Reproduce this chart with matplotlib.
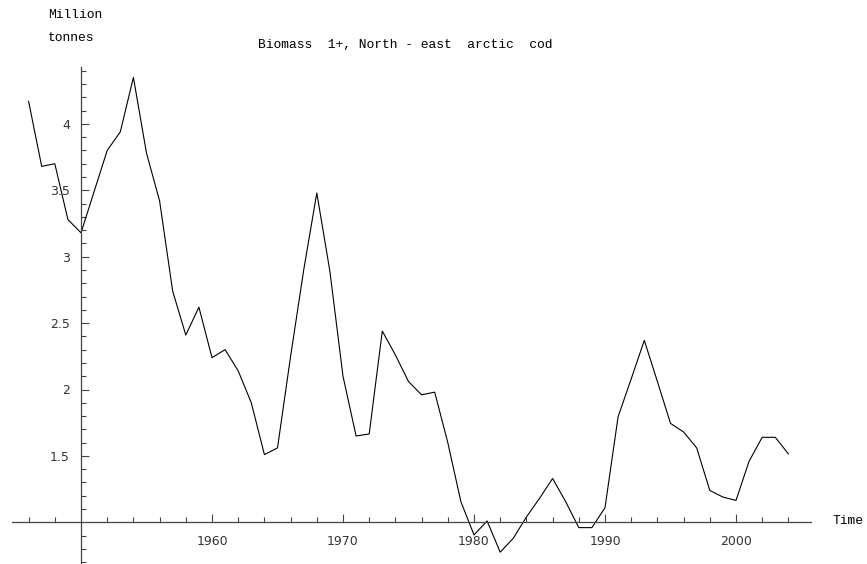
import matplotlib.pyplot as plt
import numpy as np

# Biomass 1+ of North-east arctic cod, million tonnes
years = list(range(1946, 2005))
biomass = [4.17, 3.68, 3.70, 3.28, 3.18, 3.49, 3.80, 3.94, 4.35, 3.78,
           3.42, 2.74, 2.41, 2.62, 2.24, 2.30, 2.14, 1.90, 1.51, 1.56,
           2.25, 2.90, 3.48, 2.89, 2.10, 1.65, 1.665, 2.44, 2.26, 2.06,
           1.96, 1.98, 1.60, 1.155, 0.905, 1.01, 0.775, 0.88, 1.04, 1.18,
           1.33, 1.155, 0.96, 0.96, 1.11, 1.795, 2.08, 2.37, 2.06, 1.745,
           1.68, 1.56, 1.24, 1.19, 1.165, 1.46, 1.64, 1.64, 1.515]

x_major = [1960, 1970, 1980, 1990, 2000]
y_major = [1.5, 2, 2.5, 3, 3.5, 4]
y_labels = ['1.5', '2', '2.5', '3', '3.5', '4']

fig = plt.figure(figsize=(8.67, 5.64), dpi=100)
ax = fig.add_axes([0, 0, 1, 1])

ax.plot(years, biomass, color='black', lw=0.8)

# pixel mapping
ax.set_xlim(1950 - 81 / 13.1, 1950 + 786 / 13.1)
ax.set_ylim(1 - 41.7 / 132.8, 1 + 522.3 / 132.8)

for s in ['top', 'right']:
    ax.spines[s].set_visible(False)
ax.spines['left'].set_position(('data', 1950))
ax.spines['bottom'].set_position(('data', 1.0))
ax.spines['left'].set_bounds(0.6, 4.43)
ax.spines['bottom'].set_bounds(1944.7, 2005.7)
for s in ['left', 'bottom']:
    ax.spines[s].set_color('#444444')
    ax.spines[s].set_linewidth(0.9)

ax.set_xticks(x_major)
ax.set_xticks([y for y in range(1946, 2005, 2) if y % 10 != 0], minor=True)
ax.set_yticks(y_major)
ax.set_yticklabels(y_labels)
ax.set_yticks([v / 10 for v in range(7, 45) if v % 5 != 0], minor=True)

ax.tick_params(which='both', direction='in', colors='#444444', labelcolor='#333333',
               labelsize=9, width=0.8)
ax.tick_params(which='major', length=6)
ax.tick_params(which='minor', length=3.5)
ax.tick_params(axis='x', pad=9)
ax.tick_params(axis='y', pad=8)

mono = 'Liberation Mono'
fs = 9.4
fig.text(48 / 867, 1 - 15 / 564, 'Million', family=mono, fontsize=fs, va='center', ha='left')
fig.text(48 / 867, 1 - 38 / 564, 'tonnes', family=mono, fontsize=fs, va='center', ha='left')
fig.text(258 / 867, 1 - 45 / 564, 'Biomass  1+, North - east  arctic  cod',
         family=mono, fontsize=fs, va='center', ha='left')
fig.text(833 / 867, 1 - 521 / 564, 'Time', family=mono, fontsize=fs, va='center', ha='left')

fig.savefig('out.png', dpi=100)
